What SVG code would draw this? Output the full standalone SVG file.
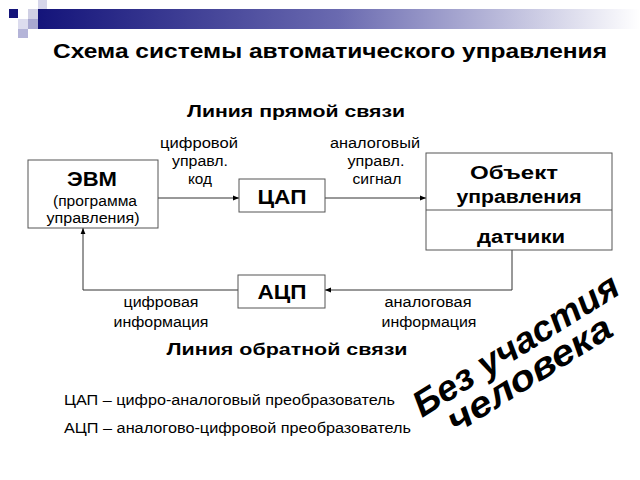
<svg xmlns="http://www.w3.org/2000/svg" width="640" height="480" viewBox="0 0 640 480">
<defs>
<linearGradient id="bar" x1="0" y1="0" x2="1" y2="0">
<stop offset="0" stop-color="#14147a"/>
<stop offset="0.5" stop-color="#6a6ab0"/>
<stop offset="1" stop-color="#ffffff"/>
</linearGradient>
<marker id="arr" viewBox="0 0 10 10" refX="10" refY="5" markerWidth="6" markerHeight="6" markerUnits="userSpaceOnUse" orient="auto">
<path d="M0,1 L10,5 L0,9 z" fill="#000"/>
</marker>
<style>
.box{fill:#fff;stroke:#555;stroke-width:1}
.ln{fill:none;stroke:#333;stroke-width:1}
.t{font-family:"Liberation Sans",Arial,sans-serif;fill:#000}
.b{font-weight:bold}
.m{text-anchor:middle}
.s{font-size:14px}
</style>
</defs>
<rect width="640" height="480" fill="#fff"/>
<g id="header">
<rect x="38" y="9" width="602" height="20" fill="url(#bar)"/>
<rect x="38" y="0" width="9" height="9" fill="#d6d6ea"/>
<rect x="9" y="9" width="9" height="9" fill="#14147a"/>
<rect x="28" y="9" width="10" height="10" fill="#d0d0e4"/>
<rect x="18" y="19" width="10" height="10" fill="#dcdcee"/>
<rect x="28" y="19" width="10" height="10" fill="#a8a8d0"/>
<rect x="18" y="29" width="10" height="9" fill="#b4b4d8"/>
</g>
<text class="t b m" x="330" y="58" font-size="20" textLength="554" lengthAdjust="spacingAndGlyphs">Схема системы автоматического управления</text>
<text class="t b m" x="296" y="117" font-size="17" textLength="218" lengthAdjust="spacingAndGlyphs">Линия прямой связи</text>
<text class="t b m" x="287" y="355" font-size="17" textLength="241" lengthAdjust="spacingAndGlyphs">Линия обратной связи</text>
<g id="connectors">
<line class="ln" x1="158" y1="198" x2="239" y2="198" marker-end="url(#arr)"/>
<line class="ln" x1="325" y1="198" x2="426" y2="198" marker-end="url(#arr)"/>
<polyline class="ln" points="512,250 512,290 325,290" marker-end="url(#arr)"/>
<polyline class="ln" points="238,290 83,290 83,228" marker-end="url(#arr)"/>
</g>
<g id="evm">
<rect class="box" x="28" y="160" width="130" height="68"/>
<text class="t b m" x="92" y="186" font-size="20" textLength="50" lengthAdjust="spacingAndGlyphs">ЭВМ</text>
<text class="t m s" x="95" y="206" textLength="84" lengthAdjust="spacingAndGlyphs">(программа</text>
<text class="t m s" x="93" y="223" textLength="93" lengthAdjust="spacingAndGlyphs">управления)</text>
</g>
<g id="dac">
<rect class="box" x="239" y="179" width="86" height="33"/>
<text class="t b m" x="282" y="204" font-size="20" textLength="49" lengthAdjust="spacingAndGlyphs">ЦАП</text>
</g>
<g id="object">
<rect class="box" x="426" y="153" width="186" height="97"/>
<line class="box" x1="426" y1="210" x2="612" y2="210"/>
<text class="t b m" x="514" y="179" font-size="18" textLength="88" lengthAdjust="spacingAndGlyphs">Объект</text>
<text class="t b m" x="519" y="203" font-size="18" textLength="125" lengthAdjust="spacingAndGlyphs">управления</text>
<text class="t b m" x="521" y="243" font-size="18" textLength="88" lengthAdjust="spacingAndGlyphs">датчики</text>
</g>
<g id="adc">
<rect class="box" x="238" y="275" width="87" height="33"/>
<text class="t b m" x="282" y="299" font-size="20" textLength="49" lengthAdjust="spacingAndGlyphs">АЦП</text>
</g>
<g id="labels">
<text class="t m s" x="199" y="148" textLength="78" lengthAdjust="spacingAndGlyphs">цифровой</text>
<text class="t m s" x="200" y="166" textLength="56" lengthAdjust="spacingAndGlyphs">управл.</text>
<text class="t m s" x="200" y="184" textLength="24" lengthAdjust="spacingAndGlyphs">код</text>
<text class="t m s" x="375" y="148" textLength="90" lengthAdjust="spacingAndGlyphs">аналоговый</text>
<text class="t m s" x="376" y="166" textLength="57" lengthAdjust="spacingAndGlyphs">управл.</text>
<text class="t m s" x="377" y="184" textLength="49" lengthAdjust="spacingAndGlyphs">сигнал</text>
<text class="t m s" x="161" y="307" textLength="75" lengthAdjust="spacingAndGlyphs">цифровая</text>
<text class="t m s" x="161" y="327" textLength="95" lengthAdjust="spacingAndGlyphs">информация</text>
<text class="t m s" x="428" y="307" textLength="87" lengthAdjust="spacingAndGlyphs">аналоговая</text>
<text class="t m s" x="429" y="327" textLength="95" lengthAdjust="spacingAndGlyphs">информация</text>
</g>
<text class="t s" x="64" y="405" textLength="331" lengthAdjust="spacingAndGlyphs">ЦАП – цифро-аналоговый преобразователь</text>
<text class="t s" x="64" y="433" textLength="347" lengthAdjust="spacingAndGlyphs">АЦП – аналогово-цифровой преобразователь</text>
<g font-family="'Liberation Sans',Arial,sans-serif" font-weight="bold" font-style="italic" font-size="36" fill="#000">
<text transform="translate(422,418) rotate(-32)" textLength="236" lengthAdjust="spacingAndGlyphs">Без участия</text>
<text transform="translate(456,434) rotate(-32)" textLength="188" lengthAdjust="spacingAndGlyphs">человека</text>
</g>
</svg>
